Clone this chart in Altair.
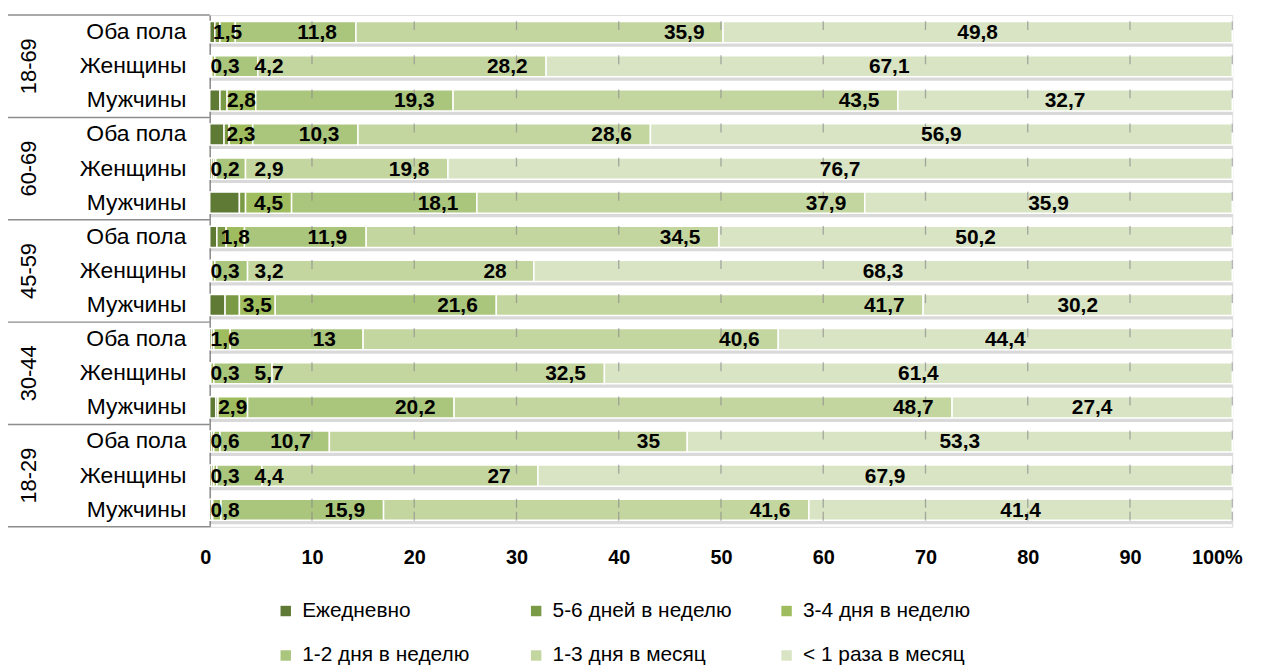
import altair as alt
import pandas as pd

groups = ["18-69", "60-69", "45-59", "30-44", "18-29"]
sexes = ["Оба пола", "Женщины", "Мужчины"]
series = ["Ежедневно", "5-6 дней в неделю", "3-4 дня в неделю",
          "1-2 дня в неделю", "1-3 дня в месяц", "< 1 раза в месяц"]
colors = ["#5f7a34", "#7a9a45", "#9fbd5e", "#aac57c", "#c4d6a0", "#d8e4c3"]

daily = [0.5, 0.1, 1.0, 1.4, 0.2, 2.9, 0.7, 0.1, 1.5, 0.2, 0.1, 0.6, 0.2, 0.2, 0.2]
d56 = [0.5, 0.1, 0.7, 0.5, 0.2, 0.6, 0.9, 0.1, 1.4, 0.2, 0.0, 0.2, 0.2, 0.2, 0.1]
d34 = [1.5, 0.3, 2.8, 2.3, 0.2, 4.5, 1.8, 0.3, 3.5, 1.6, 0.3, 2.9, 0.6, 0.3, 0.8]
d12 = [11.8, 4.2, 19.3, 10.3, 2.9, 18.1, 11.9, 3.2, 21.6, 13, 5.7, 20.2, 10.7, 4.4, 15.9]
m13 = [35.9, 28.2, 43.5, 28.6, 19.8, 37.9, 34.5, 28, 41.7, 40.6, 32.5, 48.7, 35, 27, 41.6]
lt1 = [49.8, 67.1, 32.7, 56.9, 76.7, 35.9, 50.2, 68.3, 30.2, 44.4, 61.4, 27.4, 53.3, 67.9, 41.4]
x_ticks = [0, 10, 20, 30, 40, 50, 60, 70, 80, 90, 100]

values = [daily, d56, d34, d12, m13, lt1]
keys = [f"{g}|{s}" for g in groups for s in sexes]

bars, labels = [], []
for r, key in enumerate(keys):
    vals = [v[r] for v in values]
    tot = sum(vals)
    start, prev = 0.0, 0.0
    for k, (name, v) in enumerate(zip(series, vals)):
        p = v / tot * 100
        end = start + p
        bars.append(dict(row=key, series=name, order=k, start=start, end=end))
        if k >= 2:
            mid = (start + end) / 2
            if k == 2:
                pos = max(mid, 1.5)
            elif k in (3, 4):
                pos = max(end - 3.8, prev + 4.3)
            else:
                pos = mid
            prev = pos
            labels.append(dict(row=key, pos=pos, text=f"{v:g}".replace(".", ",")))
        start = end

bars_df = pd.DataFrame(bars)
labels_df = pd.DataFrame(labels)
rows_df = pd.DataFrame({"row": keys, "x0": 0, "x1": 100})
tick_df = pd.DataFrame([{"row": k, "x": x} for k in keys for x in x_ticks[1:]])
tick_bottom_df = pd.DataFrame([{"row": keys[-1], "x": x} for x in x_ticks[1:]])
group_first = pd.DataFrame({"row": [f"{g}|{sexes[0]}" for g in groups]})
group_mid = pd.DataFrame({"row": [f"{g}|{sexes[1]}" for g in groups], "g": groups})
bottom_df = pd.DataFrame({"row": [keys[-1]]})

FONT = "Liberation Sans"
GRAY = "#8c8c8c"

y_scale = alt.Scale(domain=keys, paddingInner=0.38, paddingOuter=0.19)
x_scale = alt.Scale(domain=[0, 100], nice=False, zero=True)

y_axis = alt.Axis(title=None, labelExpr="split(datum.value, '|')[1]",
                  labelFont=FONT, labelFontSize=23, labelColor="black",
                  labelPadding=24, ticks=False, domainColor=GRAY, domainWidth=1.5,
                  grid=False)
x_axis = alt.Axis(title=None, values=x_ticks,
                  labelExpr="datum.value == 100 ? '100%' : datum.label",
                  labelFont=FONT, labelFontSize=20, labelFontWeight="bold",
                  labelColor="black", labelPadding=21, domain=False, ticks=False,
                  grid=False, labelFlush=True, labelFlushOffset=10)

shadow = alt.Chart(rows_df).mark_bar(color="#808080", opacity=0.3, yOffset=4).encode(
    x=alt.X("x0:Q", scale=x_scale, axis=x_axis),
    x2="x1:Q",
    y=alt.Y("row:N", scale=y_scale, axis=y_axis, sort=keys),
)

bar = alt.Chart(bars_df).mark_bar(stroke="white", strokeWidth=1.5).encode(
    x=alt.X("start:Q", scale=x_scale),
    x2="end:Q",
    y=alt.Y("row:N", sort=keys),
    color=alt.Color("series:N", scale=alt.Scale(domain=series, range=colors),
                    legend=alt.Legend(orient="none", legendX=66, legendY=589,
                                      direction="horizontal",
                                      columns=3, title=None, symbolType="square",
                                      symbolSize=110, symbolStrokeWidth=0,
                                      labelFont=FONT, labelFontSize=21,
                                      labelColor="black", labelOffset=6,
                                      gridAlign="all", columnPadding=44,
                                      rowPadding=23, labelLimit=400)),
    order=alt.Order("order:Q"),
)

ticks_top = alt.Chart(tick_df).mark_tick(orient="vertical", size=9, thickness=1.3,
                                          color=GRAY, yOffset=-6.5).encode(
    x=alt.X("x:Q", scale=x_scale),
    y=alt.Y("row:N", sort=keys, bandPosition=0),
)
ticks_bottom = alt.Chart(tick_bottom_df).mark_tick(orient="vertical", size=9, thickness=1.3,
                                                    color=GRAY, yOffset=6.5).encode(
    x=alt.X("x:Q", scale=x_scale),
    y=alt.Y("row:N", sort=keys, bandPosition=1),
)

sep_top = alt.Chart(group_first).mark_rule(color=GRAY, strokeWidth=1.5, yOffset=-6.5).encode(
    y=alt.Y("row:N", sort=keys, bandPosition=0),
    x=alt.value(-203), x2=alt.value(0),
)
sep_bottom = alt.Chart(bottom_df).mark_rule(color=GRAY, strokeWidth=1.5, yOffset=6.5).encode(
    y=alt.Y("row:N", sort=keys, bandPosition=1),
    x=alt.value(-203), x2=alt.value(0),
)

group_text = alt.Chart(group_mid).mark_text(font=FONT, fontSize=22, angle=270,
                                            align="center", baseline="middle",
                                            color="black").encode(
    y=alt.Y("row:N", sort=keys),
    x=alt.value(-182),
    text="g:N",
)

text = alt.Chart(labels_df).mark_text(font=FONT, fontSize=21, fontWeight="bold",
                                      color="black", align="center",
                                      baseline="middle", dy=1).encode(
    x=alt.X("pos:Q", scale=x_scale),
    y=alt.Y("row:N", sort=keys),
    text="text:N",
)

chart = alt.layer(shadow, bar, ticks_top, ticks_bottom, sep_top, sep_bottom,
                  group_text, text).properties(
    width=1029, height=515,
    autosize=alt.AutoSizeParams(type="none"),
    padding={"left": 203, "top": 5, "right": 40, "bottom": 140},
).configure_view(stroke=None).configure(background="white")

chart.save("out.html", embed_options={"renderer": "svg", "actions": False})
